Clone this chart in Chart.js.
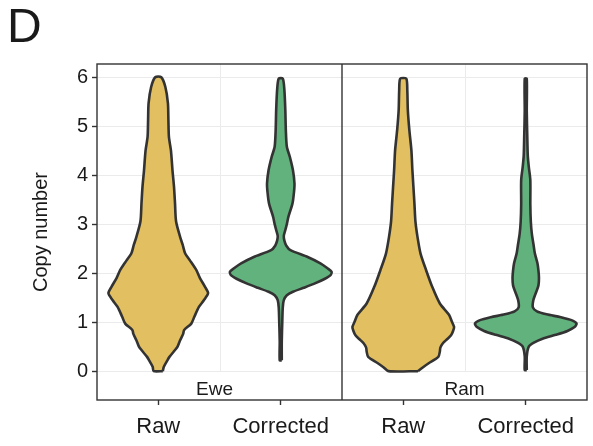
<!DOCTYPE html>
<html>
<head>
<meta charset="utf-8">
<script src="https://cdn.jsdelivr.net/npm/chart.js@4.4.1/dist/chart.umd.min.js"></script>
<style>
  body { margin: 0; background: #fff; }
  #wrap { width: 593px; height: 446px; position: relative; }
</style>
</head>
<body>
<div id="wrap"><canvas id="chart"></canvas></div>
<script>
// ── Data ─────────────────────────────────────────────────────
const groups = ['Ewe', 'Ram'];
const categories = ['Raw', 'Corrected'];
const yTicks = [0, 1, 2, 3, 4, 5, 6];

// violin outlines: copy-number level and relative density (1 = widest)
const eweRawY = [0, 0.09, 0.22, 0.29, 0.43, 0.5, 0.63, 0.76, 0.84, 0.97, 1.11, 1.31, 1.45, 1.59, 1.72, 1.9, 2.06, 2.25, 2.4, 2.58, 2.74, 3.06, 3.42, 3.76, 4.1, 4.5, 4.78, 5.12, 5.47, 5.8, 6.0];
const eweRawDensity = [0.09, 0.11, 0.18, 0.22, 0.33, 0.38, 0.43, 0.49, 0.51, 0.65, 0.71, 0.80, 0.90, 0.98, 0.92, 0.82, 0.75, 0.63, 0.53, 0.48, 0.43, 0.35, 0.33, 0.31, 0.28, 0.25, 0.21, 0.20, 0.19, 0.14, 0.06];

const eweCorrY = [0.22, 0.6, 1.0, 1.3, 1.45, 1.55, 1.62, 1.7, 1.78, 1.88, 1.96, 2.03, 2.1, 2.2, 2.33, 2.47, 2.56, 2.67, 2.76, 2.88, 3.0, 3.15, 3.42, 3.65, 3.83, 4.1, 4.37, 4.58, 4.92, 5.33, 5.76, 5.97];
const eweCorrDensity = [0.02, 0.02, 0.03, 0.04, 0.06, 0.12, 0.24, 0.45, 0.65, 0.86, 0.98, 1.0, 0.92, 0.78, 0.53, 0.19, 0.11, 0.07, 0.06, 0.09, 0.12, 0.15, 0.23, 0.26, 0.27, 0.24, 0.18, 0.12, 0.10, 0.09, 0.07, 0.04];

const ramRawY = [0, 0.08, 0.16, 0.29, 0.4, 0.48, 0.57, 0.65, 0.73, 0.82, 0.9, 1.0, 1.15, 1.38, 1.72, 2.06, 2.4, 2.74, 3.05, 3.42, 3.76, 4.1, 4.51, 4.92, 5.33, 5.73, 5.97];
const ramRawDensity = [0.29, 0.39, 0.50, 0.69, 0.72, 0.73, 0.78, 0.86, 0.94, 0.98, 1.0, 0.96, 0.90, 0.72, 0.57, 0.45, 0.34, 0.28, 0.24, 0.22, 0.20, 0.18, 0.16, 0.12, 0.09, 0.08, 0.06];

const ramCorrY = [0.02, 0.3, 0.5, 0.58, 0.66, 0.74, 0.82, 0.9, 0.97, 1.04, 1.1, 1.16, 1.22, 1.3, 1.45, 1.6, 1.75, 1.9, 2.05, 2.2, 2.4, 2.6, 2.8, 3.05, 3.4, 3.9, 4.17, 4.4, 4.8, 5.3, 5.97];
const ramCorrDensity = [0.02, 0.02, 0.06, 0.16, 0.33, 0.59, 0.82, 0.96, 1.0, 0.90, 0.69, 0.41, 0.22, 0.14, 0.15, 0.20, 0.25, 0.26, 0.25, 0.23, 0.18, 0.15, 0.12, 0.10, 0.09, 0.09, 0.06, 0.04, 0.03, 0.02, 0.02];

// ── Style ────────────────────────────────────────────────────
const FONT = "'Liberation Sans', Arial, sans-serif";
const INK = '#1a1a1a';
const GRID = '#ebebeb';
const FRAME = '#333333';
const COLORS = ['#e2bf60', '#62b27e'];
const HALF_WIDTH = 0.415;   // widest half-width, in category units

// x position of a category inside its facet (each facet spans 2 units)
const xPos = (g, c) => g * 2 + c + 0.5;

function violin(center, ys, dens, color) {
    const right = ys.map((y, i) => ({ x: center + dens[i] * HALF_WIDTH, y }));
    const left = ys.map((y, i) => ({ x: center - dens[i] * HALF_WIDTH, y })).reverse();
    const pts = right.concat(left);
    pts.push(pts[0]);
    return {
        data: pts,
        showLine: true,
        fill: 'shape',
        backgroundColor: color,
        borderColor: FRAME,
        borderWidth: 2.6,
        borderJoinStyle: 'round',
        pointRadius: 0,
        tension: 0.25
    };
}

const datasets = [
    violin(xPos(0, 0), eweRawY, eweRawDensity, COLORS[0]),
    violin(xPos(0, 1), eweCorrY, eweCorrDensity, COLORS[1]),
    violin(xPos(1, 0), ramRawY, ramRawDensity, COLORS[0]),
    violin(xPos(1, 1), ramCorrY, ramCorrDensity, COLORS[1])
];

const xTickValues = [];
groups.forEach((g, gi) => categories.forEach((c, ci) => xTickValues.push(xPos(gi, ci))));

// ── Decorations: facet grid, frame, labels ───────────────────
const facetPlugin = {
    id: 'facets',
    beforeDatasetsDraw(chart) {
        const { ctx, chartArea, scales: { x, y } } = chart;
        ctx.save();
        ctx.strokeStyle = GRID;
        ctx.lineWidth = 1;
        groups.forEach((g, gi) => {
            const px = Math.round(x.getPixelForValue(gi * 2 + 1)) + 0.5;
            ctx.beginPath();
            ctx.moveTo(px, chartArea.top);
            ctx.lineTo(px, y.getPixelForValue(0));
            ctx.stroke();
        });
        ctx.restore();
    },
    afterDraw(chart) {
        const { ctx, chartArea, scales: { x } } = chart;
        ctx.save();
        ctx.strokeStyle = FRAME;
        ctx.lineWidth = 1.4;
        ctx.strokeRect(chartArea.left, chartArea.top, chartArea.width, chartArea.height);
        ctx.beginPath();
        const mid = x.getPixelForValue(2);
        ctx.moveTo(mid, chartArea.top);
        ctx.lineTo(mid, chartArea.bottom);
        ctx.stroke();

        ctx.fillStyle = INK;
        ctx.textAlign = 'center';
        ctx.textBaseline = 'alphabetic';
        ctx.font = `19px ${FONT}`;
        groups.forEach((g, gi) => {
            ctx.fillText(g, x.getPixelForValue(gi * 2 + 1) - (gi === 0 ? 5 : 0), 395);
        });

        ctx.font = `48px ${FONT}`;
        ctx.textAlign = 'left';
        ctx.fillText('D', 7, 42);

        ctx.translate(41, (chartArea.top + chartArea.bottom) / 2);
        ctx.rotate(-Math.PI / 2);
        ctx.textAlign = 'center';
        ctx.textBaseline = 'middle';
        ctx.font = `20px ${FONT}`;
        ctx.fillText('Copy number', 0, 0);
        ctx.restore();
    }
};

new Chart(document.getElementById('chart'), {
    type: 'scatter',
    data: { datasets },
    options: {
        responsive: true,
        maintainAspectRatio: false,
        animation: false,
        events: [],
        layout: { padding: { top: 64, right: 6, left: 0, bottom: 0 } },
        plugins: { legend: { display: false }, tooltip: { enabled: false } },
        scales: {
            x: {
                type: 'linear',
                min: 0,
                max: 4,
                afterBuildTicks: s => { s.ticks = xTickValues.map(v => ({ value: v })); },
                afterFit: s => { s.height = 46; },
                border: { display: false },
                grid: {
                    drawOnChartArea: false,
                    tickLength: 5,
                    tickColor: FRAME,
                    tickWidth: 1.4
                },
                ticks: {
                    autoSkip: false,
                    maxRotation: 0,
                    padding: 9,
                    color: INK,
                    font: { family: FONT, size: 22 },
                    callback: v => categories[Math.round((v - 0.5)) % 2]
                }
            },
            y: {
                min: -0.59,
                max: 6.27,
                afterBuildTicks: s => { s.ticks = yTicks.map(v => ({ value: v })); },
                afterFit: s => { s.width = 97; },
                border: { display: false },
                grid: {
                    color: GRID,
                    lineWidth: 1,
                    tickLength: 5,
                    tickColor: FRAME,
                    tickWidth: 1.4
                },
                ticks: {
                    padding: 4,
                    color: INK,
                    font: { family: FONT, size: 20 }
                }
            }
        }
    },
    plugins: [facetPlugin]
});
</script>
</body>
</html>
